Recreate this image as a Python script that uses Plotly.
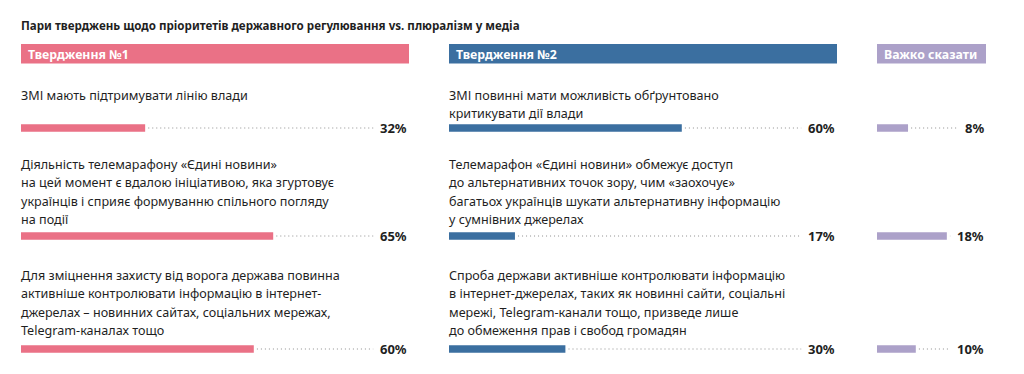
import plotly.graph_objects as go

# ---------------- data ----------------
title_text = "Пари тверджень щодо пріоритетів державного регулювання vs. плюралізм у медіа"
headers = ["Твердження №1", "Твердження №2", "Важко сказати"]

statements_1 = [
    ["ЗМІ мають підтримувати лінію влади"],
    ["Діяльність телемарафону «Єдині новини»",
     "на цей момент є вдалою ініціативою, яка згуртовує",
     "українців і сприяє формуванню спільного погляду",
     "на події"],
    ["Для зміцнення захисту від ворога держава повинна",
     "активніше контролювати інформацію в інтернет-",
     "джерелах – новинних сайтах, соціальних мережах,",
     "Telegram-каналах тощо"],
]
statements_2 = [
    ["ЗМІ повинні мати можливість обґрунтовано",
     "критикувати дії влади"],
    ["Телемарафон «Єдині новини» обмежує доступ",
     "до альтернативних точок зору, чим «заохочує»",
     "багатьох українців шукати альтернативну інформацію",
     "у сумнівних джерелах"],
    ["Спроба держави активніше контролювати інформацію",
     "в інтернет-джерелах, таких як новинні сайти, соціальні",
     "мережі, Telegram-канали тощо, призведе лише",
     "до обмеження прав і свобод громадян"],
]
values_1 = [32, 65, 60]
values_2 = [60, 17, 30]
values_3 = [8, 18, 10]

# ---------------- layout constants ----------------
OFF = 8  # page body margin
W, H = 1024 - OFF, 374 - OFF
colors = ["#EA7186", "#3B6FA0", "#ACA1C9"]
px_per_pct = 388 / 100.0
panels = [  # left px, right px (page coordinates)
    (21, 409),
    (449, 837),
    (877, 986),
]
row_bar_y = [128, 236, 349]
row_text_y0 = [95, 164, 275]
line_step = 18.6
bar_h = 7.5
text_color = "#1f1f1f"
FONT = "Noto Sans"

fig = go.Figure()

axis_names = ["x", "x2", "x3"]
layout_axes = {}
for i, (l, r) in enumerate(panels):
    rng = (r - l) / px_per_pct
    key = "xaxis" if i == 0 else f"xaxis{i+1}"
    layout_axes[key] = dict(domain=[(l - OFF) / W, (r - OFF) / W], range=[0, rng],
                            visible=False, fixedrange=True, anchor="y")

series = [values_1, values_2, values_3]
for i, vals in enumerate(series):
    l, r = panels[i]
    rng = (r - l) / px_per_pct
    for j, v in enumerate(vals):
        label = f"{v}%"
        label_w = 8.6 * len(label)
        end_px = r - label_w - 10
        end_val = (end_px - l) / px_per_pct
        # dotted leader line
        fig.add_trace(go.Scatter(
            x=[v + 0.8, end_val], y=[row_bar_y[j], row_bar_y[j]],
            xaxis=axis_names[i], yaxis="y", mode="lines",
            line=dict(color="#8f8f8f", width=1, dash="1px,3px"),
            hoverinfo="skip", showlegend=False))
        # percentage label
        fig.add_annotation(x=rng, y=row_bar_y[j], xref=axis_names[i], yref="y",
                           text=f"<b>{label}</b>", showarrow=False,
                           xanchor="right", yanchor="middle",
                           font=dict(family=FONT, size=13, color=text_color))
    fig.add_trace(go.Bar(
        x=vals, y=row_bar_y, orientation="h", width=bar_h,
        marker=dict(color=colors[i], line=dict(width=0)),
        xaxis=axis_names[i], yaxis="y", showlegend=False, hoverinfo="skip"))

    # header band
    fig.add_shape(type="rect", xref=axis_names[i], yref="y",
                  x0=0, x1=rng, y0=44, y1=63.5,
                  fillcolor=colors[i], line=dict(width=0), layer="below")
    fig.add_annotation(x=0, y=54, xref=axis_names[i], yref="y", xshift=5,
                       text=f"<b>{headers[i]}</b>", showarrow=False,
                       xanchor="left", yanchor="middle",
                       font=dict(family=FONT, size=12.3, color="white"))

# statement texts
for i, stmts in enumerate([statements_1, statements_2]):
    for j, lines in enumerate(stmts):
        for k, line in enumerate(lines):
            fig.add_annotation(x=0, y=row_text_y0[j] + k * line_step,
                               xref=axis_names[i], yref="y", xshift=-2,
                               text=line, showarrow=False,
                               xanchor="left", yanchor="middle",
                               font=dict(family=FONT, size=12.6, color=text_color))

# title
fig.add_annotation(x=(21 - OFF) / W, y=25, xref="paper", yref="y", xshift=-2,
                   text=f"<b>{title_text}</b>", showarrow=False,
                   xanchor="left", yanchor="middle",
                   font=dict(family=FONT, size=11.6, color=text_color))

fig.update_layout(
    width=W, height=H,
    margin=dict(l=0, r=0, t=0, b=0),
    paper_bgcolor="white", plot_bgcolor="white",
    barmode="overlay",
    yaxis=dict(domain=[0, 1], range=[374, OFF], visible=False, fixedrange=True),
    **layout_axes,
)

fig.write_html("out.html", config={"displayModeBar": False})
